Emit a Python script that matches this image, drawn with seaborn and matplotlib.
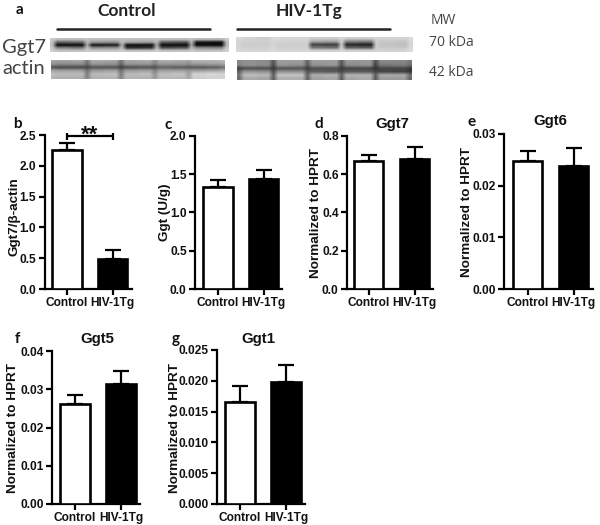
import numpy as np
import pandas as pd
import matplotlib
matplotlib.use("Agg")
import matplotlib.pyplot as plt
import seaborn as sns

sns.set_theme(style="ticks")
plt.rcParams['font.family'] = ['Liberation Sans', 'DejaVu Sans']

W, H = 600, 525
groups = ["Control", "HIV-1Tg"]

# mean and upper error limit
b_mean, b_top = [2.26, 0.49], [2.37, 0.64]
c_mean, c_top = [1.33, 1.44], [1.43, 1.55]
d_mean, d_top = [0.67, 0.68], [0.70, 0.74]
e_mean, e_top = [0.0248, 0.0238], [0.0267, 0.0272]
f_mean, f_top = [0.0262, 0.0315], [0.0285, 0.0348]
g_mean, g_top = [0.0165, 0.0198], [0.0192, 0.0226]

# blot gray levels: rows top to bottom, columns gap/lane/lane/gap/...
ggt7_control = [
    [205, 190, 190, 195, 190, 190, 195, 192, 192, 195, 190, 190, 195, 185, 185, 205],
    [195, 100, 105, 185, 150, 145, 190, 165, 160, 185, 90, 85, 180, 25, 20, 190],
    [190, 10, 10, 170, 20, 25, 175, 15, 15, 170, 10, 10, 165, 10, 10, 185],
    [200, 130, 120, 190, 140, 145, 190, 50, 55, 190, 80, 85, 185, 140, 135, 200],
    [210, 195, 195, 205, 200, 200, 205, 195, 195, 205, 195, 195, 205, 195, 195, 210],
]
ggt7_hiv = [
    [218, 212, 205, 218, 215, 215, 215, 205, 205, 215, 205, 205, 212, 210, 210, 220],
    [215, 208, 208, 214, 212, 210, 210, 165, 160, 208, 130, 125, 208, 200, 198, 216],
    [212, 204, 204, 212, 205, 206, 205, 70, 65, 205, 40, 35, 205, 195, 192, 214],
    [214, 208, 208, 214, 208, 208, 208, 115, 110, 208, 95, 90, 208, 200, 198, 216],
    [218, 214, 214, 218, 214, 214, 214, 208, 208, 212, 208, 208, 212, 212, 212, 220],
]
actin_control = [
    [165, 160, 165, 120, 170, 165, 115, 165, 170, 140, 175, 170, 160, 180, 180, 185],
    [145, 140, 140, 105, 150, 145, 100, 150, 150, 125, 150, 150, 140, 155, 160, 165],
    [85, 75, 75, 70, 85, 85, 65, 80, 85, 80, 100, 95, 90, 90, 95, 110],
    [165, 160, 160, 115, 155, 160, 110, 155, 160, 130, 160, 160, 150, 160, 165, 175],
    [190, 185, 185, 125, 185, 190, 125, 185, 190, 145, 190, 195, 160, 210, 215, 210],
    [180, 175, 175, 130, 180, 180, 130, 180, 180, 150, 185, 185, 165, 205, 210, 210],
]
actin_hiv = [
    [135, 145, 140, 85, 155, 155, 100, 155, 155, 90, 150, 150, 80, 135, 135, 120],
    [130, 145, 140, 75, 150, 145, 90, 145, 150, 80, 140, 145, 65, 120, 125, 110],
    [65, 80, 80, 55, 85, 85, 60, 80, 80, 60, 70, 70, 50, 70, 70, 55],
    [100, 150, 145, 80, 145, 145, 85, 95, 90, 75, 90, 90, 70, 70, 65, 55],
    [120, 190, 185, 95, 195, 195, 100, 175, 180, 100, 180, 180, 95, 170, 170, 115],
    [110, 170, 165, 90, 175, 175, 95, 160, 165, 90, 165, 170, 85, 155, 155, 105],
]

fig = plt.figure(figsize=(6, 5.25), dpi=100, facecolor="white")


def fx(x):
    return x / W


def fy(y):
    return 1 - y / H


def axes_px(x0, y0, x1, y1):
    return fig.add_axes([fx(x0), fy(y1), fx(x1 - x0), (y1 - y0) / H])


def blot(matrix, x0, y0, x1, y1):
    ax = axes_px(x0, y0, x1, y1)
    # lanes are wider than the gaps between them
    repeats = [1, 3, 3] * 5 + [1]
    ax.imshow(np.repeat(np.array(matrix), repeats, axis=1), cmap="gray", vmin=0, vmax=255,
              aspect="auto", interpolation="bilinear")
    ax.axis("off")


blot(ggt7_control, 50, 38, 229, 52)
blot(ggt7_hiv, 236, 37, 413, 52)
blot(actin_control, 51, 60, 225, 79)
blot(actin_hiv, 237, 60, 412, 80)

fig.add_artist(plt.Line2D([fx(57), fx(210)], [fy(29), fy(29)], color="#222222", lw=1.8))
fig.add_artist(plt.Line2D([fx(237), fx(390)], [fy(29), fy(29)], color="#222222", lw=1.8))


def ftext(x, y, s, **kw):
    kw.setdefault("ha", "center")
    kw.setdefault("va", "center")
    fig.text(fx(x), fy(y), s, **kw)


ftext(127, 11, "Control", family="Lato", weight="bold", fontsize=12.5, color="#222222")
ftext(309, 11, "HIV-1Tg", family="Lato", weight="bold", fontsize=12.5, color="#222222")
ftext(24, 47, "Ggt7", family="Lato", fontsize=14.5, color="#444444")
ftext(24, 69, "actin", family="Lato", fontsize=14.5, color="#444444")
ftext(443, 20, "MW", family="Open Sans", fontsize=10, color="#444444")
ftext(451, 43, "70 kDa", family="Open Sans", fontsize=10, color="#444444")
ftext(451, 73, "42 kDa", family="Open Sans", fontsize=10, color="#444444")

for s, x, y in [("a", 19, 10), ("b", 17, 124), ("c", 168, 125), ("d", 319, 124),
                ("e", 472, 122), ("f", 17, 339), ("g", 176, 339)]:
    ftext(x, y, s, family="Lato", weight="bold", fontsize=11, color="#111111")


def panel(mean, top, box, centers, ylim, yticks, fmt, ylabel, label_xy, title=None):
    x0, y0, x1, y1 = box
    ax = axes_px(x0, y0, x1, y1)
    df = pd.DataFrame({"group": groups, "value": mean})
    sns.barplot(data=df, x="group", y="value", hue="group", palette=["white", "black"],
                edgecolor="black", linewidth=1.9, width=0.64, legend=False, ax=ax, zorder=3)
    low = np.array(mean)
    up = np.array(top) - low
    ax.errorbar([0, 1], mean, yerr=[np.zeros(2), up], fmt="none", ecolor="black",
                elinewidth=1.6, capsize=6, capthick=1.6, zorder=2)
    step = centers[1] - centers[0]
    ax.set_xlim((x0 - centers[0]) / step, (x1 - centers[0]) / step)
    ax.set_ylim(*ylim)
    ax.set_yticks(yticks)
    ax.set_yticklabels([fmt.format(v) for v in yticks])
    ax.set_xticks([0, 1])
    ax.set_xticklabels(groups)
    ax.set_xlabel("")
    for s in ("top", "right"):
        ax.spines[s].set_visible(False)
    for s in ("left", "bottom"):
        ax.spines[s].set_linewidth(1.6)
        ax.spines[s].set_color("black")
    ax.tick_params(axis="both", length=4, width=1.6, color="black", pad=2,
                   labelcolor="#111111")
    for t in ax.get_xticklabels() + ax.get_yticklabels():
        t.set_fontweight("bold")
        t.set_fontsize(8.6)
    ax.set_ylabel(ylabel, fontsize=9.7, fontweight="bold", color="#111111", va="center")
    ax.yaxis.set_label_coords(fx(label_xy[0]), fy(label_xy[1]), transform=fig.transFigure)
    if title:
        ftext(title[1], title[2], title[0], weight="bold", fontsize=10.8, color="#111111")
    return ax


ax_b = panel(b_mean, b_top, (44.5, 135, 132, 289), (67, 112.5), (0, 2.5),
             [0, 0.5, 1, 1.5, 2, 2.5], "{:.1f}", "Ggt7/β-actin", (15, 217))
panel(c_mean, c_top, (195, 136, 282, 289), (218, 263.5), (0, 2.0),
      [0, 0.5, 1, 1.5, 2], "{:.1f}", "Ggt (U/g)", (165, 212))
panel(d_mean, d_top, (347, 136, 433, 289), (368.5, 414.5), (0, 0.8),
      [0, 0.2, 0.4, 0.6, 0.8], "{:.1f}", "Normalized to HPRT", (316, 213),
      ("Ggt7", 392, 124))
panel(e_mean, e_top, (504, 134, 593, 289), (527.5, 573.5), (0, 0.03),
      [0, 0.01, 0.02, 0.03], "{:.2f}", "Normalized to HPRT", (467, 212),
      ("Ggt6", 550, 121))
panel(f_mean, f_top, (52, 351, 140, 504), (75, 121), (0, 0.04),
      [0, 0.01, 0.02, 0.03, 0.04], "{:.2f}", "Normalized to HPRT", (13, 428),
      ("Ggt5", 97, 339))
panel(g_mean, g_top, (217, 350, 305, 504), (240, 286), (0, 0.025),
      [0, 0.005, 0.01, 0.015, 0.02, 0.025], "{:.3f}", "Normalized to HPRT", (175, 428),
      ("Ggt1", 258, 339))

# significance bracket in panel b
sig_y = 2.48
ax_b.errorbar([0, 1], [sig_y, sig_y], yerr=0.06, color="black", lw=1.6,
              capsize=0, clip_on=False, zorder=5)
ax_b.text(0.5, 2.33, "**", ha="center", va="bottom", fontsize=16, fontweight="bold",
          color="#111111", clip_on=False)

fig.savefig("out.png", dpi=100, facecolor="white")
